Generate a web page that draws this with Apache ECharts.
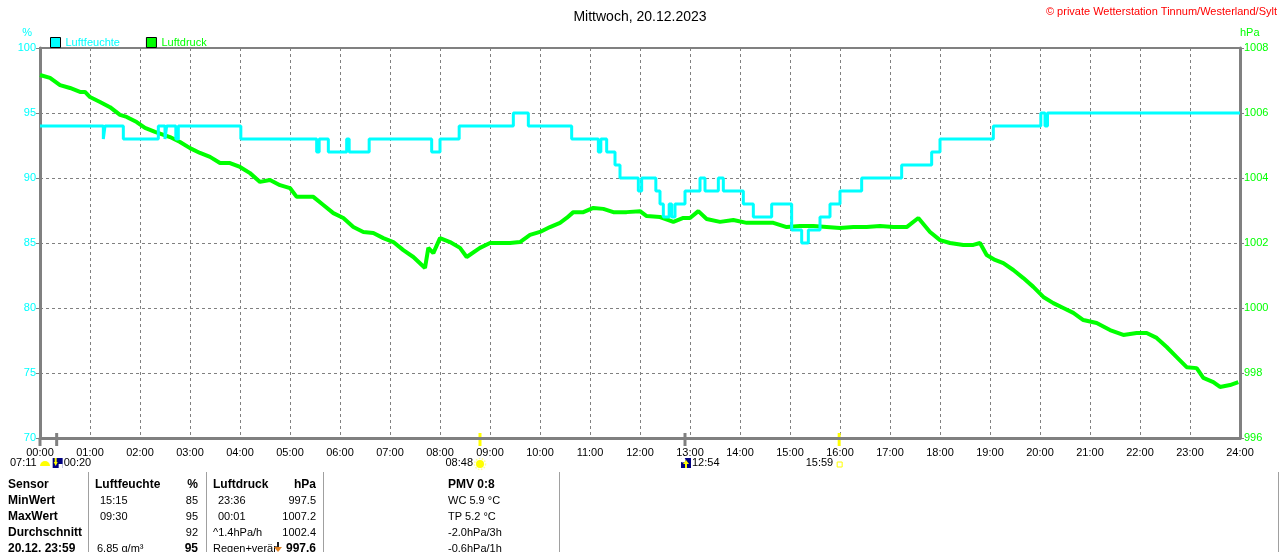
<!DOCTYPE html>
<html>
<head>
<meta charset="utf-8">
<title>Luftfeuchte / Luftdruck 20.12.2023</title>
<script src="https://cdn.jsdelivr.net/npm/echarts@6/dist/echarts.min.js"></script>
<style>
  html, body { margin: 0; padding: 0; background: #fff; }
  #main { width: 1280px; height: 552px; }
</style>
</head>
<body>
<div id="main"></div>
<script>
// Zeit in Minuten seit 00:00
const humTime = [0, 76, 78, 100, 142, 150, 152, 163, 166, 241, 332, 335, 346, 368, 371, 395, 470, 480, 503, 568,
  586, 638, 670, 673, 680, 690, 696, 718, 722, 739, 744, 748, 755, 758, 762, 774, 792, 798, 814, 820,
  844, 856, 878, 902, 914, 922, 936, 948, 960, 986, 1034, 1070, 1080, 1144, 1201, 1206, 1209, 1440];
const humValue = [94, 93, 94, 93, 94, 93, 94, 93, 94, 93, 92, 93, 92, 93, 92, 93, 92, 93, 94, 95,
  94, 93, 92, 93, 92, 91, 90, 89, 90, 89, 88, 87, 88, 87, 88, 89, 90, 89, 90, 89,
  88, 87, 88, 86, 85, 86, 87, 88, 89, 90, 91, 92, 93, 94, 95, 94, 95, 95];

const presTime = [0, 12, 24, 36, 48, 54, 60, 72, 84, 96, 104, 116, 126, 138, 156, 168, 180, 192, 204, 216,
  228, 240, 252, 264, 276, 288, 300, 308, 320, 328, 340, 352, 364, 376, 388, 400, 412, 424, 436, 448,
  462, 466, 472, 480, 492, 504, 512, 528, 540, 552, 564, 576, 588, 600, 612, 624, 632, 640, 652, 664,
  676, 688, 704, 720, 728, 744, 760, 772, 780, 790, 800, 816, 832, 848, 864, 880, 896, 912, 928, 944,
  960, 976, 992, 1008, 1024, 1040, 1054, 1068, 1080, 1092, 1108, 1120, 1128, 1136, 1146, 1156, 1168, 1180, 1192, 1204,
  1216, 1228, 1240, 1252, 1268, 1284, 1300, 1316, 1328, 1340, 1352, 1364, 1376, 1388, 1396, 1408, 1416, 1428, 1438];
const presValue = [1007.17, 1007.08, 1006.86, 1006.77, 1006.65, 1006.65, 1006.49, 1006.34, 1006.18, 1005.94,
  1005.88, 1005.72, 1005.54, 1005.42, 1005.26, 1005.11, 1004.92, 1004.77, 1004.65, 1004.46,
  1004.46, 1004.34, 1004.15, 1003.88, 1003.94, 1003.78, 1003.69, 1003.42, 1003.42, 1003.42,
  1003.17, 1002.92, 1002.77, 1002.49, 1002.34, 1002.31, 1002.15, 1002.03, 1001.78, 1001.57,
  1001.23, 1001.85, 1001.69, 1002.15, 1002.03, 1001.85, 1001.57, 1001.85, 1002.0, 1002.0,
  1002.0, 1002.03, 1002.25, 1002.34, 1002.49, 1002.62, 1002.77, 1002.95, 1002.95, 1003.08,
  1003.05, 1002.95, 1002.95, 1002.98, 1002.83, 1002.8, 1002.65, 1002.77, 1002.77, 1002.98,
  1002.74, 1002.65, 1002.71, 1002.62, 1002.62, 1002.62, 1002.49, 1002.52, 1002.52, 1002.49,
  1002.46, 1002.49, 1002.49, 1002.52, 1002.49, 1002.49, 1002.77, 1002.34, 1002.09, 1002.0,
  1001.94, 1001.94, 1002.0, 1001.63, 1001.48, 1001.38, 1001.17, 1000.92, 1000.65, 1000.34,
  1000.15, 1000.0, 999.85, 999.63, 999.54, 999.32, 999.17, 999.23, 999.23, 999.08,
  998.8, 998.49, 998.18, 998.15, 997.85, 997.72, 997.57, 997.63, 997.72];

// Sonne / Mond (Minuten)
const moonsetTime = 20;    // 00:20
const sunriseTime = 528;   // 08:48
const moonriseTime = 774;  // 12:54
const sunsetTime = 959;    // 15:59

// Tabelle unten
const tableRows = [
  ['Sensor', 'Luftfeuchte', '%', 'Luftdruck', 'hPa', 'PMV 0:8'],
  ['MinWert', '15:15', '85', '23:36', '997.5', 'WC 5.9 °C'],
  ['MaxWert', '09:30', '95', '00:01', '1007.2', 'TP 5.2 °C'],
  ['Durchschnitt', '', '92', '^1.4hPa/h', '1002.4', '-2.0hPa/3h'],
  ['20.12. 23:59', '6.85 g/m³', '95', 'Regen+verär', '997.6', '-0.6hPa/1h']
];

const CYAN = '#00ffff';
const GREEN = '#00ff00';
const GREY = '#808080';
const FONT = '"Liberation Sans", Arial, sans-serif';

function pad(n) { return (n < 10 ? '0' : '') + n; }

var myChart = echarts.init(document.getElementById('main'));
var option = {
  animation: false,
  backgroundColor: '#fff',
  textStyle: { fontFamily: FONT },
  title: {
    text: 'Mittwoch, 20.12.2023',
    left: 'center',
    top: 5,
    textStyle: { fontSize: 14, fontWeight: 'normal', color: '#000', fontFamily: FONT }
  },
  legend: {
    left: 45,
    top: 32,
    itemWidth: 10,
    itemHeight: 10,
    itemGap: 26,
    icon: 'rect',
    data: [
      { name: 'Luftfeuchte', textStyle: { color: CYAN } },
      { name: 'Luftdruck', textStyle: { color: GREEN } }
    ],
    textStyle: { fontSize: 11, fontFamily: FONT },
    itemStyle: { borderColor: '#000', borderWidth: 1 }
  },
  grid: {
    left: 40, right: 40, top: 48, bottom: 114,
    show: true, borderColor: GREY, borderWidth: 2
  },
  xAxis: {
    type: 'value',
    min: 0, max: 1440, interval: 60,
    axisLine: { show: true, lineStyle: { color: GREY, width: 3 } },
    axisTick: { show: false },
    axisLabel: {
      color: '#000', fontSize: 11, margin: 9, fontFamily: FONT,
      formatter: function (v) { return pad(v / 60) + ':00'; }
    },
    splitLine: { show: true, lineStyle: { color: GREY, type: [3, 3], width: 1 } }
  },
  yAxis: [
    {
      type: 'value', min: 70, max: 100, interval: 5, position: 'left',
      name: '%', nameLocation: 'end', nameGap: 10,
      nameTextStyle: { color: CYAN, fontSize: 11, align: 'right', padding: [0, 8, 0, 0] },
      axisLine: { show: true, onZero: false, lineStyle: { color: GREY, width: 3 } },
      axisTick: { show: true, length: 4, lineStyle: { color: GREY, width: 1 } },
      axisLabel: { color: CYAN, fontSize: 11, margin: 4, fontFamily: FONT },
      splitLine: { show: true, lineStyle: { color: GREY, type: [3, 3], width: 1 } }
    },
    {
      type: 'value', min: 996, max: 1008, interval: 2, position: 'right',
      name: 'hPa', nameLocation: 'end', nameGap: 10,
      nameTextStyle: { color: GREEN, fontSize: 11, align: 'left', padding: [0, 0, 0, 0] },
      axisLine: { show: true, onZero: false, lineStyle: { color: GREY, width: 3 } },
      axisTick: { show: true, length: 4, lineStyle: { color: GREY, width: 1 } },
      axisLabel: {
        color: GREEN, fontSize: 11, margin: 4, fontFamily: FONT,
        formatter: function (v) { return String(v); }
      },
      splitLine: { show: false }
    }
  ],
  series: [
    {
      name: 'Luftdruck',
      type: 'line',
      yAxisIndex: 1,
      showSymbol: false,
      symbol: 'none',
      color: GREEN,
      lineStyle: { color: GREEN, width: 4 },
      data: presTime.map(function (t, i) { return [t, presValue[i]]; })
    },
    {
      name: 'Luftfeuchte',
      type: 'line',
      yAxisIndex: 0,
      step: 'end',
      showSymbol: false,
      symbol: 'none',
      color: CYAN,
      lineStyle: { color: CYAN, width: 3 },
      data: humTime.map(function (t, i) { return [t, humValue[i]]; })
    }
  ]
};
myChart.setOption(option);

// Zusatzgrafik: Sonne/Mond-Marken und Tabelle
function px(t) { return myChart.convertToPixel({ xAxisIndex: 0 }, t); }
var axisY = myChart.convertToPixel({ yAxisIndex: 0 }, 70);
var g = [];

function txt(text, x, y, opt) {
  opt = opt || {};
  g.push({
    type: 'text', silent: true,
    style: {
      text: text, x: x, y: y,
      fill: opt.fill || '#000',
      font: (opt.bold ? 'bold ' : '') + (opt.size || 11) + 'px ' + FONT,
      textAlign: opt.align || 'left',
      textVerticalAlign: 'middle'
    }
  });
}

// Copyright
txt('© private Wetterstation Tinnum/Westerland/Sylt', 1277, 12, { fill: '#ff0000', align: 'right', size: 11 });

// Beginn der Zeitachse reicht etwas unter die Achse
g.push({ type: 'line', silent: true, shape: { x1: px(0), y1: axisY, x2: px(0), y2: axisY + 8 },
  style: { stroke: GREY, lineWidth: 3 } });

// Marken auf der Zeitachse
[[moonsetTime, GREY], [moonriseTime, GREY], [sunriseTime, '#ffff00'], [sunsetTime, '#ffff00']].forEach(function (m) {
  var x = px(m[0]);
  g.push({ type: 'line', silent: true, shape: { x1: x, y1: axisY - 5, x2: x, y2: axisY + 8 },
    style: { stroke: m[1], lineWidth: 3 } });
});

var rowY = 463;
// 07:11 Dämmerung + Monduntergang
txt('07:11', 10, rowY);
g.push({ type: 'sector', silent: true, shape: { cx: 45, cy: rowY + 3, r: 5, r0: 0, startAngle: Math.PI, endAngle: Math.PI * 2 },
  style: { fill: '#ffff00' } });
var msx = px(moonsetTime);
g.push({ type: 'rect', silent: true, shape: { x: msx - 4, y: rowY - 5, width: 10, height: 10 }, style: { fill: '#000080' } });
g.push({ type: 'polygon', silent: true, shape: { points: [[msx - 3, rowY - 1], [msx + 1, rowY - 1], [msx - 1, rowY + 3]] }, style: { fill: '#ffff00' } });
g.push({ type: 'rect', silent: true, shape: { x: msx - 2, y: rowY - 5, width: 2, height: 4 }, style: { fill: '#ffff00' } });
g.push({ type: 'rect', silent: true, shape: { x: msx + 2, y: rowY + 1, width: 4, height: 4 }, style: { fill: '#ffffff' } });
txt('00:20', msx + 7, rowY);

// Sonnenaufgang
var srx = px(sunriseTime);
txt('08:48', srx - 7, rowY, { align: 'right' });
g.push({ type: 'circle', silent: true, shape: { cx: srx, cy: rowY + 1, r: 5.5 }, style: { fill: 'none', stroke: '#ffff99', lineWidth: 1.5, lineDash: [1.5, 1.5] } });
g.push({ type: 'circle', silent: true, shape: { cx: srx, cy: rowY + 1, r: 4 }, style: { fill: '#ffff00' } });

// Mondaufgang
var mrx = px(moonriseTime);
g.push({ type: 'rect', silent: true, shape: { x: mrx - 4, y: rowY - 5, width: 10, height: 10 }, style: { fill: '#000080' } });
g.push({ type: 'circle', silent: true, shape: { cx: mrx - 2, cy: rowY - 3, r: 2.5 }, style: { fill: '#ffffff' } });
g.push({ type: 'polygon', silent: true, shape: { points: [[mrx - 2, rowY + 1], [mrx + 4, rowY + 1], [mrx + 1, rowY - 3]] }, style: { fill: '#ffff00' } });
g.push({ type: 'rect', silent: true, shape: { x: mrx, y: rowY + 1, width: 2, height: 4 }, style: { fill: '#ffff00' } });
txt('12:54', mrx + 7, rowY);

// Sonnenuntergang
var ssx = px(sunsetTime);
txt('15:59', ssx - 6, rowY, { align: 'right' });
g.push({ type: 'rect', silent: true, shape: { x: ssx - 2, y: rowY - 1, width: 5, height: 5 }, style: { fill: 'none', stroke: '#ffff00', lineWidth: 1 } });

// Tabelle
[88, 206, 323, 559, 1278].forEach(function (x) {
  g.push({ type: 'line', silent: true, shape: { x1: x + 0.5, y1: 472, x2: x + 0.5, y2: 552 },
    style: { stroke: '#a0a0a0', lineWidth: 1 } });
});
var tableY = [485, 501, 517, 533, 549];
tableRows.forEach(function (row, r) {
  var y = tableY[r];
  var head = r === 0;
  txt(row[0], 8, y, { bold: true, size: 12 });
  txt(row[1], head ? 95 : (r === 4 ? 97 : 100), y, { bold: head, size: head ? 12 : 11 });
  txt(row[2], 198, y, { bold: head || r === 4, size: head || r === 4 ? 12 : 11, align: 'right' });
  txt(row[3], (head || r >= 3) ? 213 : 218, y, { bold: head, size: head ? 12 : 11 });
  txt(row[4], 316, y, { bold: head || r === 4, size: head || r === 4 ? 12 : 11, align: 'right' });
  txt(row[5], 448, y, { bold: head, size: head ? 12 : 11 });
});
// Tendenzpfeil vor dem aktuellen Luftdruck
g.push({ type: 'rect', silent: true, shape: { x: 277, y: 542, width: 2, height: 8 }, style: { fill: '#202020' } });
g.push({ type: 'polygon', silent: true, shape: { points: [[274, 547], [282, 547], [278, 552]] }, style: { fill: '#e08020' } });

myChart.setOption({ graphic: g });
</script>
</body>
</html>
